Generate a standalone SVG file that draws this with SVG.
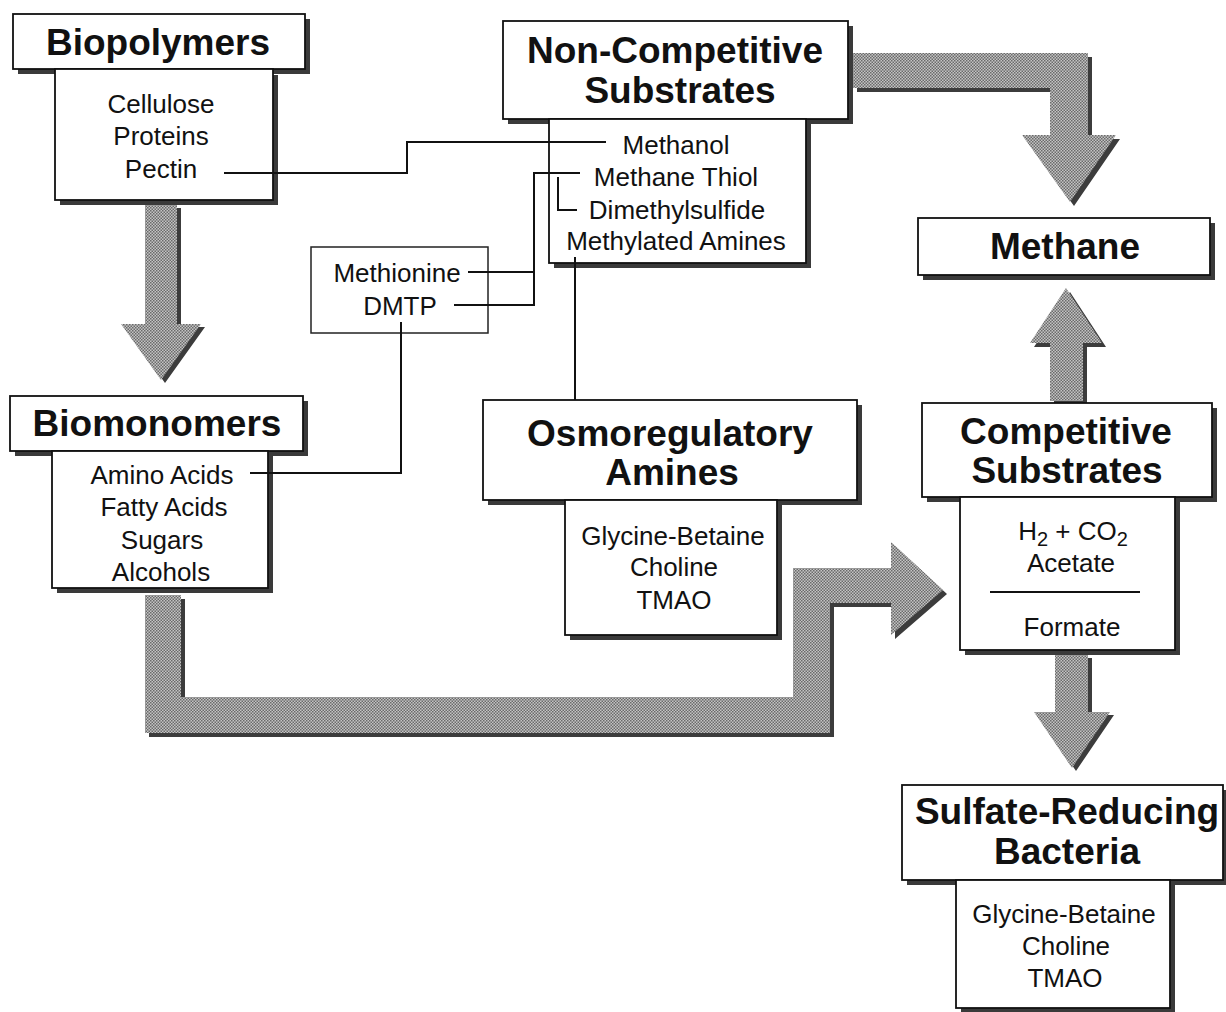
<svg xmlns="http://www.w3.org/2000/svg" width="1226" height="1012" viewBox="0 0 1226 1012">
<style>
.bg{fill:#fff}
.sh{fill:#3a3a3a}
.bx{fill:#fff;stroke:#111;stroke-width:1.8}
.thin{fill:#fff;stroke:#222;stroke-width:1.5}
.t{font-family:"Liberation Sans",Arial,Helvetica,sans-serif;font-weight:bold;font-size:37px;fill:#111;text-anchor:middle}
.b{font-family:"Liberation Sans",Arial,Helvetica,sans-serif;font-size:26px;fill:#111;text-anchor:middle}
.ln{fill:none;stroke:#111;stroke-width:2}
.ar{fill:url(#dots)}
.as{fill:#3c3c3c}
</style>
<defs>
<pattern id="dots" width="3" height="3" patternUnits="userSpaceOnUse">
<rect width="3" height="3" fill="#c4c4c4"/>
<rect width="1.5" height="1.5" fill="#6a6a6a"/>
<rect x="1.5" y="1.5" width="1.5" height="1.5" fill="#6a6a6a"/>
</pattern>
</defs>
<rect class="bg" width="1226" height="1012"/>

<g id="arrows">
<g id="arrow-bio">
<path class="as" transform="translate(4,3)" d="M145,205 H177 V324 H201 L161,380 L121,324 H145 Z"/>
<path class="ar" d="M145,205 H177 V324 H201 L161,380 L121,324 H145 Z"/>
</g>
<g id="arrow-bent">
<path class="as" transform="translate(4,4)" d="M145,595 V733 H830 V603 H891 V635 L943,590 L891,542 V568 H793 V697 H181 V595 Z"/>
<path class="ar" d="M145,595 V733 H830 V603 H891 V635 L943,590 L891,542 V568 H793 V697 H181 V595 Z"/>
</g>
<g id="arrow-noncomp-methane">
<path class="as" transform="translate(4,4)" d="M853,53 H1088 V135 H1116 L1070,202 L1022,135 H1050 V88 H853 Z"/>
<path class="ar" d="M853,53 H1088 V135 H1116 L1070,202 L1022,135 H1050 V88 H853 Z"/>
</g>
<g id="arrow-comp-methane">
<path class="as" transform="translate(4,4)" d="M1050,401 V343 H1030 L1066,288 L1102,343 H1083 V401 Z"/>
<path class="ar" d="M1050,401 V343 H1030 L1066,288 L1102,343 H1083 V401 Z"/>
</g>
<g id="arrow-comp-srb">
<path class="as" transform="translate(4,3)" d="M1055,655 H1088 V712 H1110 L1072,768 L1034,712 H1055 Z"/>
<path class="ar" d="M1055,655 H1088 V712 H1110 L1072,768 L1034,712 H1055 Z"/>
</g>
</g>

<g id="biopolymers">
<rect class="sh" x="18" y="19" width="292" height="55"/>
<rect class="bx" x="13" y="14" width="292" height="55"/>
<rect class="sh" x="60" y="75" width="218" height="130"/>
<rect class="bx" x="55" y="69" width="218" height="131"/>
<text class="t" x="158" y="55">Biopolymers</text>
<text class="b" x="161" y="113">Cellulose</text>
<text class="b" x="161" y="145">Proteins</text>
<text class="b" x="161" y="178">Pectin</text>
</g>

<g id="noncompetitive">
<rect class="sh" x="508" y="26" width="345" height="98"/>
<rect class="bx" x="503" y="21" width="345" height="98"/>
<rect class="sh" x="554" y="124" width="257" height="144"/>
<rect class="bx" x="549" y="119" width="257" height="144"/>
<text class="t" x="675" y="63">Non-Competitive</text>
<text class="t" x="680" y="103">Substrates</text>
<text class="b" x="676" y="154">Methanol</text>
<text class="b" x="676" y="186">Methane Thiol</text>
<text class="b" x="677" y="219">Dimethylsulfide</text>
<text class="b" x="676" y="250">Methylated Amines</text>
</g>

<g id="methane">
<rect class="sh" x="923" y="223" width="292" height="57"/>
<rect class="bx" x="918" y="218" width="292" height="57"/>
<text class="t" x="1065" y="259">Methane</text>
</g>

<g id="methionine">
<rect class="thin" x="311" y="247" width="177" height="86"/>
<text class="b" x="397" y="282">Methionine</text>
<text class="b" x="400" y="315">DMTP</text>
</g>

<g id="biomonomers">
<rect class="sh" x="15" y="401" width="293" height="55"/>
<rect class="bx" x="10" y="396" width="293" height="55"/>
<rect class="sh" x="57" y="456" width="216" height="137"/>
<rect class="bx" x="52" y="451" width="216" height="137"/>
<text class="t" x="157" y="436">Biomonomers</text>
<text class="b" x="162" y="484">Amino Acids</text>
<text class="b" x="164" y="516">Fatty Acids</text>
<text class="b" x="162" y="549">Sugars</text>
<text class="b" x="161" y="581">Alcohols</text>
</g>

<g id="osmoregulatory">
<rect class="sh" x="488" y="405" width="374" height="100"/>
<rect class="bx" x="483" y="400" width="374" height="100"/>
<rect class="sh" x="570" y="505" width="212" height="135"/>
<rect class="bx" x="565" y="500" width="212" height="135"/>
<text class="t" x="670" y="446">Osmoregulatory</text>
<text class="t" x="672" y="485">Amines</text>
<text class="b" x="673" y="545">Glycine-Betaine</text>
<text class="b" x="674" y="576">Choline</text>
<text class="b" x="674" y="609">TMAO</text>
</g>

<g id="competitive">
<rect class="sh" x="927" y="408" width="290" height="94"/>
<rect class="bx" x="922" y="403" width="290" height="94"/>
<rect class="sh" x="965" y="502" width="215" height="153"/>
<rect class="bx" x="960" y="497" width="215" height="153"/>
<text class="t" x="1066" y="444">Competitive</text>
<text class="t" x="1067" y="483">Substrates</text>
<text class="b" x="1073" y="540">H<tspan font-size="20" dy="6">2</tspan><tspan dy="-6">  + CO</tspan><tspan font-size="20" dy="6">2</tspan></text>
<text class="b" x="1071" y="572">Acetate</text>
<line x1="990" y1="592" x2="1140" y2="592" stroke="#111" stroke-width="2"/>
<text class="b" x="1072" y="636">Formate</text>
</g>

<g id="sulfate-reducing">
<rect class="sh" x="907" y="790" width="321" height="95"/>
<rect class="bx" x="902" y="785" width="321" height="95"/>
<rect class="sh" x="961" y="885" width="214" height="130"/>
<rect class="bx" x="956" y="880" width="214" height="128"/>
<text class="t" x="1067" y="824">Sulfate-Reducing</text>
<text class="t" x="1067" y="864">Bacteria</text>
<text class="b" x="1064" y="923">Glycine-Betaine</text>
<text class="b" x="1066" y="955">Choline</text>
<text class="b" x="1065" y="987">TMAO</text>
</g>

<g id="connectors">
<polyline class="ln" points="224,173 407,173 407,142 606,142"/>
<polyline class="ln" points="580,173 534,173 534,305 454,305"/>
<line class="ln" x1="468" y1="272" x2="534" y2="272"/>
<polyline class="ln" points="558,177 558,210 577,210"/>
<line class="ln" x1="575" y1="257" x2="575" y2="400"/>
<polyline class="ln" points="250,473 401,473 401,322"/>
</g>
</svg>
